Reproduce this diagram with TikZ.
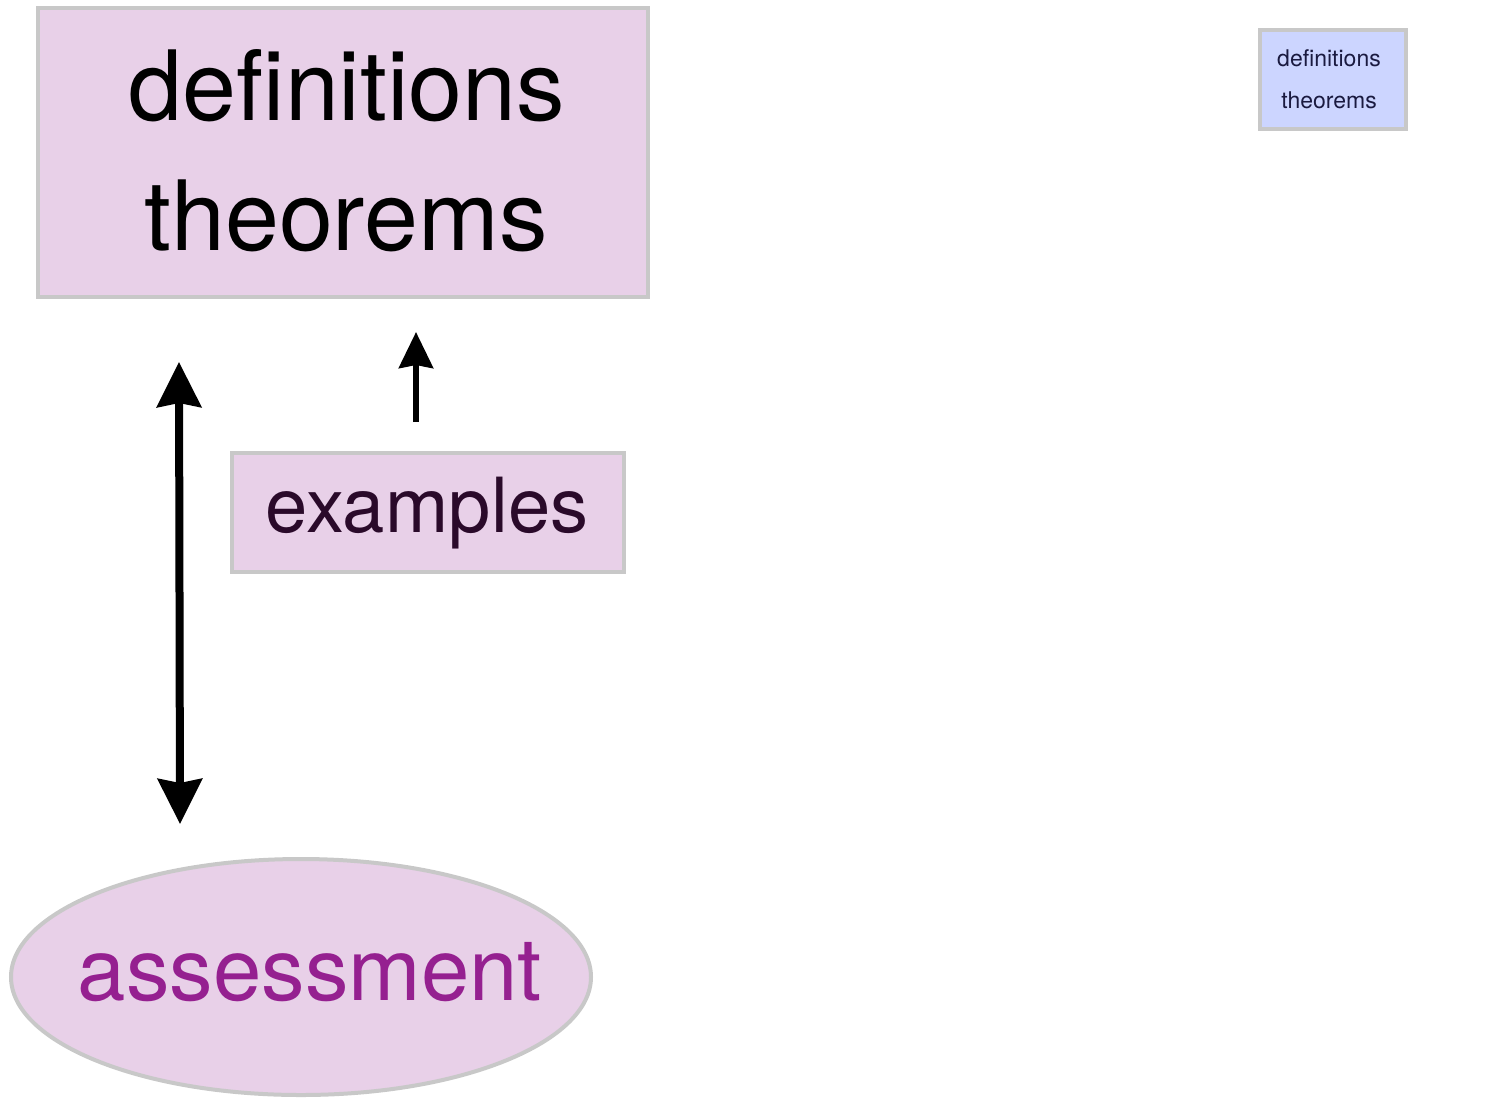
\documentclass[tikz,border=0pt]{standalone}
\usepackage{fontspec}
\setmainfont{TeX Gyre Heros}
\usetikzlibrary{arrows.meta}
\definecolor{boxfill}{HTML}{E8D0E8}
\definecolor{boxline}{HTML}{C8C8C8}
\definecolor{smallfill}{HTML}{CCD5FF}
\definecolor{smalltext}{HTML}{1A1A40}
\definecolor{extext}{HTML}{2A0A2A}
\definecolor{astext}{HTML}{952090}
\tikzset{
  pinkbox/.style={draw=boxline, fill=boxfill, line width=4pt, inner sep=0pt},
  bluebox/.style={draw=boxline, fill=smallfill, line width=4pt, inner sep=0pt},
  bigdarrow/.style={line width=8pt, {Stealth[length=45pt,width=44pt,inset=4pt]}-{Stealth[length=45pt,width=44pt,inset=4pt]}},
  smallarrow/.style={line width=6pt, -{Stealth[length=36pt,width=34pt,inset=3pt]}},
  lbl/.style={anchor=base, inner sep=0pt},
}
\begin{document}
\begin{tikzpicture}[x=1pt,y=-1pt]
\useasboundingbox (0,0) rectangle (1490,1098);
% big box
\path (38,8) coordinate (bb1) (648,297) coordinate (bb2);
\draw[pinkbox] (bb1) rectangle (bb2);
\node[lbl, font=\fontsize{97}{97}\selectfont] (def) at (347,120) {definitions};
\node[lbl, font=\fontsize{97}{97}\selectfont] (thm) at (346,250) {theorems};
% examples box
\path (232,453) coordinate (eb1) (624,572) coordinate (eb2);
\draw[pinkbox] (eb1) rectangle (eb2);
\node[lbl, text=extext, font=\fontsize{76}{76}\selectfont] (ex) at (427,532) {examples};
% ellipse
\draw[pinkbox] (301,977) ellipse [x radius=290, y radius=118];
\node[lbl, text=astext, font=\fontsize{87}{87}\selectfont] (as) at (310,1000) {assessment};
% small box
\path (1260,30) coordinate (sb1) (1406,129) coordinate (sb2);
\draw[bluebox] (sb1) rectangle (sb2);
\node[lbl, text=smalltext, font=\fontsize{23}{23}\selectfont] (sdef) at (1329,66) {definitions};
\node[lbl, text=smalltext, font=\fontsize{23}{23}\selectfont] (sthm) at (1329,108) {theorems};
% arrows
\coordinate (d1) at (179,362);
\coordinate (d2) at (180,824);
\draw[bigdarrow] (d2) -- (d1);
\coordinate (s1) at (416,422);
\coordinate (s2) at (416,332);
\draw[smallarrow] (s1) -- (s2);
\end{tikzpicture}
\end{document}
